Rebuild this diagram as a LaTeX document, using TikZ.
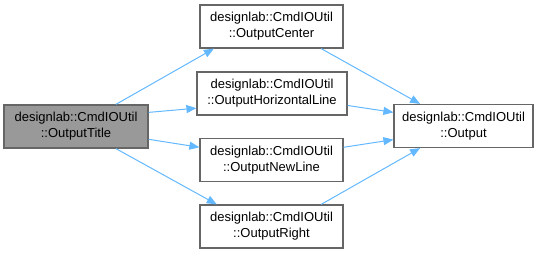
\documentclass[tikz,border=0pt]{standalone}
\usepackage{fontspec}
\setmainfont{Liberation Sans}
\usetikzlibrary{arrows.meta}

\definecolor{edgeblue}{HTML}{63B8FF}
\definecolor{boxgray}{HTML}{666666}
\definecolor{titlefill}{HTML}{999999}

\tikzset{
  fnbox/.style={draw=boxgray, line width=1.2pt, fill=white, align=center,
    minimum height=43pt, inner xsep=4pt, font=\fontsize{13}{16}\selectfont},
  callto/.style={draw=edgeblue, line width=1pt, -{Triangle[length=10pt,width=8pt,fill=edgeblue]}}
}

\begin{document}
\begin{tikzpicture}[x=1pt, y=-1pt]
\useasboundingbox (0,0) rectangle (544,253);

%functions
\node[fnbox, fill=titlefill, minimum width=144pt] (title) at (76,126.5) {designlab::CmdIOUtil\\::OutputTitle};

\node[fnbox, minimum width=143pt] (center) at (271.5,26.5) {designlab::CmdIOUtil\\::OutputCenter};

\node[fnbox, minimum width=150pt] (hline) at (272,93.5) {designlab::CmdIOUtil\\::OutputHorizontalLine};

\node[fnbox, minimum width=143pt] (newline) at (271.5,160) {designlab::CmdIOUtil\\::OutputNewLine};

\node[fnbox, minimum width=143pt] (right) at (271.5,226.5) {designlab::CmdIOUtil\\::OutputRight};

\node[fnbox, minimum width=139pt] (output) at (463.5,126) {designlab::CmdIOUtil\\::Output};

%calls
\draw[callto] (title.29) -- (center.201);
\draw[callto] (title.11) -- (hline.191);
\draw[callto] (title.-10) -- (newline.170);
\draw[callto] (title.-29) -- (right.158);

\draw[callto] (center.-24) -- (output.153);
\draw[callto] (hline.-9) -- (output.169);
\draw[callto] (newline.10) -- (output.191);
\draw[callto] (right.24) -- (output.207);
\end{tikzpicture}
\end{document}
